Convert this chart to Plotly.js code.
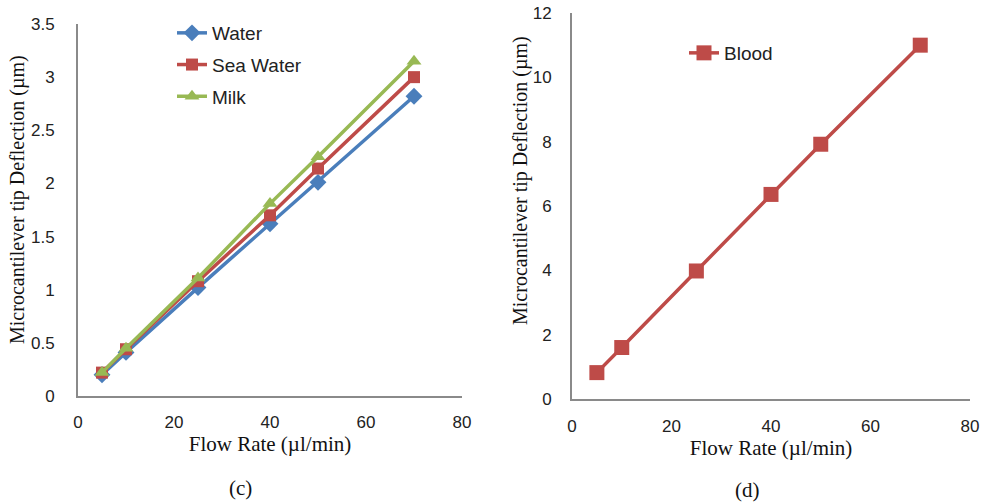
<!DOCTYPE html>
<html>
<head>
<meta charset="utf-8">
<script src="https://cdn.plot.ly/plotly-3.0.1.min.js"></script>
<style>html,body{margin:0;padding:0;background:#fff;}#chart{width:983px;height:503px;}</style>
</head>
<body>
<div id="chart"></div>
<script>
// Data
const flowRate = [5, 10, 25, 40, 50, 70];
const water    = [0.20, 0.41, 1.02, 1.62, 2.01, 2.82];
const seaWater = [0.22, 0.44, 1.08, 1.70, 2.14, 3.00];
const milk     = [0.22, 0.45, 1.11, 1.81, 2.25, 3.15];
const blood    = [0.82, 1.60, 3.98, 6.36, 7.92, 11.0];
const xTicks = [0, 20, 40, 60, 80];
const yTicksC = [0, 0.5, 1, 1.5, 2, 2.5, 3, 3.5];
const yTicksD = [0, 2, 4, 6, 8, 10, 12];
const xTitle = 'Flow Rate (µl/min)';
const yTitle = 'Microcantilever tip Deflection (µm)';

const cBlue = '#4a7ebb', cRed = '#be4b48', cGreen = '#98b954';

const traces = [
  {x: flowRate, y: water, name: 'Water', type: 'scatter', mode: 'lines+markers',
   line: {color: cBlue, width: 3.5}, marker: {symbol: 'diamond', size: 13, color: cBlue},
   xaxis: 'x', yaxis: 'y', legend: 'legend', legendgroup: 'a'},
  {x: flowRate, y: seaWater, name: 'Sea Water', type: 'scatter', mode: 'lines+markers',
   line: {color: cRed, width: 3.5}, marker: {symbol: 'square', size: 12, color: cRed},
   xaxis: 'x', yaxis: 'y', legend: 'legend', legendgroup: 'b'},
  {x: flowRate, y: milk, name: 'Milk', type: 'scatter', mode: 'lines+markers',
   line: {color: cGreen, width: 3.5}, marker: {symbol: 'triangle-up', size: 13, color: cGreen},
   xaxis: 'x', yaxis: 'y', legend: 'legend', legendgroup: 'c'},
  {x: flowRate, y: blood, name: 'Blood', type: 'scatter', mode: 'lines+markers',
   line: {color: cRed, width: 3.5}, marker: {symbol: 'square', size: 15, color: cRed},
   xaxis: 'x2', yaxis: 'y2', legend: 'legend2'}
];

const tickFont = {family: 'Liberation Sans, Arial, sans-serif', size: 17, color: '#222'};
const titleFontX = {family: 'Liberation Serif, Times New Roman, serif', size: 21, color: '#111'};
const titleFontY = {family: 'Liberation Serif, Times New Roman, serif', size: 20, color: '#111'};
const legFont = {family: 'Liberation Sans, Arial, sans-serif', size: 19, color: '#222'};
const axBase = {
  showgrid: false, zeroline: false, showline: true, linecolor: '#8a8a8a', linewidth: 2,
  ticks: 'outside', tickcolor: 'rgba(0,0,0,0)', tickfont: tickFont, fixedrange: true
};

const layout = {
  width: 983, height: 503,
  margin: {l: 0, r: 0, t: 0, b: 0},
  paper_bgcolor: '#fff', plot_bgcolor: '#fff',
  showlegend: true,
  xaxis: Object.assign({}, axBase, {domain: [78/983, 462/983], range: [0, 80], tickvals: xTicks,
    ticklen: 10, anchor: 'y', title: {text: xTitle, font: titleFontX, standoff: 0}}),
  yaxis: Object.assign({}, axBase, {domain: [1 - 396/503, 1 - 24/503], range: [0, 3.5], tickvals: yTicksC,
    ticklen: 18, anchor: 'x'}),
  xaxis2: Object.assign({}, axBase, {domain: [572/983, 970/983], range: [0, 80], tickvals: xTicks,
    ticklen: 11, anchor: 'y2', title: {text: xTitle, font: titleFontX, standoff: 0}}),
  yaxis2: Object.assign({}, axBase, {domain: [1 - 399/503, 1 - 13/503], range: [0, 12], tickvals: yTicksD,
    ticklen: 15, anchor: 'x2'}),
  legend: {x: 172/983, y: 1 - 14/503, xanchor: 'left', yanchor: 'top', bgcolor: 'rgba(0,0,0,0)',
    font: legFont, traceorder: 'grouped', tracegroupgap: 4},
  legend2: {x: 684/983, y: 1 - 34/503, xanchor: 'left', yanchor: 'top', bgcolor: 'rgba(0,0,0,0)',
    font: legFont},
  annotations: [
    {text: yTitle, textangle: -90, xref: 'paper', yref: 'paper', x: 18/983, y: 1 - 200/503,
     showarrow: false, font: titleFontY, xanchor: 'center', yanchor: 'middle'},
    {text: yTitle, textangle: -90, xref: 'paper', yref: 'paper', x: 520/983, y: 1 - 181/503,
     showarrow: false, font: titleFontY, xanchor: 'center', yanchor: 'middle'},
    {text: '(c)', xref: 'paper', yref: 'paper', x: 240/983, y: 1 - 488/503,
     showarrow: false, font: titleFontX, xanchor: 'center', yanchor: 'middle'},
    {text: '(d)', xref: 'paper', yref: 'paper', x: 747/983, y: 1 - 490/503,
     showarrow: false, font: titleFontX, xanchor: 'center', yanchor: 'middle'}
  ]
};

Plotly.newPlot('chart', traces, layout, {displayModeBar: false, staticPlot: true});
</script>
</body>
</html>
